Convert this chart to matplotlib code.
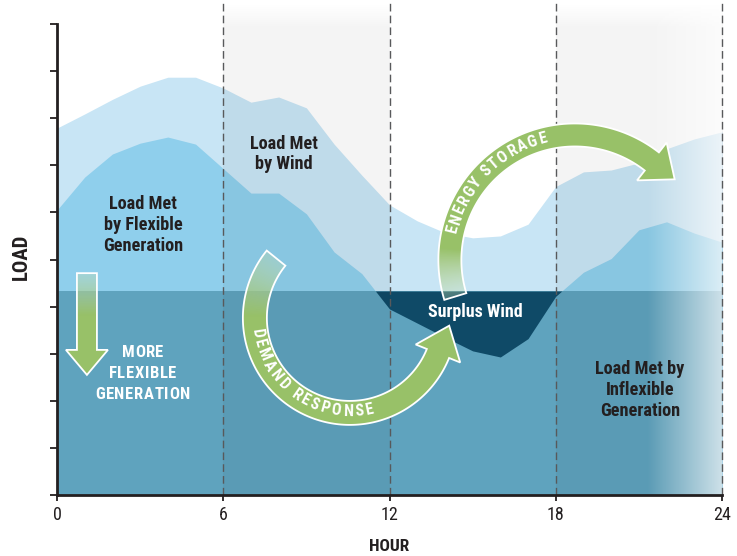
import numpy as np
import matplotlib
matplotlib.use('Agg')
import matplotlib.pyplot as plt
from matplotlib import font_manager as fm
from matplotlib.patches import Polygon
from matplotlib.font_manager import FontProperties

# --- data (hour of day vs. load, arbitrary units) ---
HOURS = list(range(25))
TOTAL_LOAD = [7.79, 8.09, 8.40, 8.68, 8.87, 8.87, 8.64, 8.34, 8.45, 8.22, 7.45, 6.79, 6.16,
              5.82, 5.57, 5.46, 5.50, 5.75, 6.55, 6.86, 6.90, 7.05, 7.35, 7.56, 7.71]
NET_LOAD = [6.05, 6.75, 7.24, 7.47, 7.60, 7.45, 6.93, 6.41, 6.41, 5.97, 5.16, 4.70, 3.95,
            3.65, 3.35, 3.06, 2.93, 3.32, 4.22, 4.73, 5.02, 5.63, 5.80, 5.56, 5.37]
INFLEXIBLE_LEVEL = 4.33
X_TICKS = [0, 6, 12, 18, 24]
Y_TICKS = list(range(11))
SHADED_BANDS = [(6, 12), (18, 24)]
DIVIDERS = [6, 12, 18, 24]

# --- style ---
W, H = 737, 556
TEXT_C = '#231f20'
WIND_C = '#c8e5f5'
FLEX_C = '#8fcfec'
INFLEX_C = '#5fa3be'
SURPLUS_C = '#0f4a67'
GREEN = np.array([152, 193, 104]) / 255


def pick_font():
    # the original uses a condensed sans; take the narrowest one installed
    for fam in ['Liberation Sans Narrow', 'Roboto Condensed', 'Open Sans Condensed']:
        try:
            fm.findfont(FontProperties(family=fam), fallback_to_default=False)
            return fam, 'normal'
        except ValueError:
            pass
    path = fm.findfont(FontProperties(family='DejaVu Sans', stretch='condensed'))
    if 'ondensed' in path:
        return 'DejaVu Sans', 'condensed'
    return 'Roboto', 'normal'


FAM, STRETCH = pick_font()
FONT = [FAM, 'DejaVu Sans']
plt.rcParams['font.family'] = FONT
plt.rcParams['font.stretch'] = STRETCH

fig = plt.figure(figsize=(W / 100, H / 100), dpi=100, facecolor='white')
ax = fig.add_axes([57 / W, 1 - 495 / H, (722 - 57) / W, (495 - 24) / H])
renderer = fig.canvas.get_renderer()


def text_width(s, prop):
    w, _, _ = renderer.get_text_width_height_descent(s, prop, ismath=False)
    return w


def fit_size(s, target_px, weight='bold'):
    probe = FontProperties(family=FONT, weight=weight, stretch=STRETCH, size=10)
    return 10 * target_px / text_width(s, probe)


# stacked areas
ax.fill_between(HOURS, 0, TOTAL_LOAD, color=WIND_C, lw=0, zorder=1)
ax.fill_between(HOURS, 0, NET_LOAD, color=FLEX_C, lw=0, zorder=2)
ax.axhspan(0, INFLEXIBLE_LEVEL, color=INFLEX_C, lw=0, zorder=3)
net = np.array(NET_LOAD)
ax.fill_between(HOURS, net, INFLEXIBLE_LEVEL, where=net < INFLEXIBLE_LEVEL,
                interpolate=True, color=SURPLUS_C, lw=0, zorder=4)

# shaded time bands (fade out at the very top)
TOP = 10.45
for a, b in SHADED_BANDS:
    yy = np.linspace(0, TOP, 200)
    img = np.zeros((200, 1, 4))
    img[:, 0, 3] = 0.045 * np.clip((TOP - yy) / 0.5, 0, 1)
    ax.imshow(img, extent=(a, b, 0, TOP), origin='lower', aspect='auto',
              interpolation='bilinear', clip_on=False, zorder=5)

# white fade at the right edge
fade = np.ones((1, 200, 4))
fade[0, :, 3] = 0.7 * np.linspace(0, 1, 200)
ax.imshow(fade, extent=(21.3, 24, 0, TOP), origin='lower', aspect='auto',
          interpolation='bilinear', clip_on=False, zorder=6)

for x in DIVIDERS:
    ax.plot([x, x], [0, TOP], color='#58595b', lw=1.0, dashes=(5.5, 3),
            clip_on=False, zorder=7)

ax.set_xlim(0, 24)
ax.set_ylim(0, 10)
for side in ['top', 'right']:
    ax.spines[side].set_visible(False)
for side in ['left', 'bottom']:
    ax.spines[side].set_color(TEXT_C)
    ax.spines[side].set_linewidth(2)
    ax.spines[side].set_zorder(8)
ax.set_xticks(X_TICKS)
ax.set_yticks(Y_TICKS)
ax.set_yticklabels([])
ax.tick_params(axis='y', length=5, width=1.3, color=TEXT_C)
ax.tick_params(axis='x', length=4, width=1.3, color=TEXT_C, labelsize=13,
               labelcolor=TEXT_C, pad=4)
ax.set_xlabel('HOUR', fontsize=fit_size('HOUR', 40), fontweight='bold', color=TEXT_C)
ax.set_ylabel('LOAD', fontsize=fit_size('LOAD', 46), fontweight='bold', color=TEXT_C)
ax.xaxis.set_label_coords(0.5, -0.093)
ax.yaxis.set_label_coords(-0.040, 0.505)

lbl_size = fit_size('Load Met', 68)
lbl = dict(fontsize=lbl_size, fontweight='bold', color=TEXT_C, ha='center',
           va='center', linespacing=1.2, zorder=9)
ax.text(3.1, 5.73, 'Load Met\nby Flexible\nGeneration', **lbl)
ax.text(8.19, 7.24, 'Load Met\nby Wind', **lbl)
ax.text(21.04, 2.23, 'Load Met by\nInflexible\nGeneration', **lbl)
ax.text(15.1, 3.88, 'Surplus Wind', fontsize=fit_size('Surplus Wind', 95),
        fontweight='bold', color='white', ha='center', va='center', zorder=9)

# --- decoration layer in pixel units ---
deco = fig.add_axes([0, 0, 1, 1], zorder=5)
deco.set_xlim(0, W)
deco.set_ylim(0, H)
deco.axis('off')
deco.patch.set_alpha(0)


def to_px(h, load):
    return ax.transData.transform((h, load))


def char_width(c, prop):
    if c == ' ':
        return prop.get_size_in_points() * 100 / 72 * 0.22
    return text_width(c, prop)


def gradient_fill(pts, progress, fade_len):
    # green fill that fades out at the tail, clipped to the arrow outline
    x0, y0 = pts.min(axis=0) - 2
    x1, y1 = pts.max(axis=0) + 2
    gx, gy = np.meshgrid(np.arange(x0, x1), np.arange(y0, y1))
    t = np.clip(progress(gx, gy) / fade_len, 0, 1)
    img = np.zeros(gx.shape + (4,))
    whiten = 0.45 * (1 - t)
    for k in range(3):
        img[..., k] = GREEN[k] * (1 - whiten) + whiten
    img[..., 3] = 0.3 + 0.7 * t
    outline = Polygon(pts, closed=True, facecolor='none', edgecolor='white', lw=1.3,
                      zorder=3)
    deco.add_patch(outline)
    im = deco.imshow(img, extent=(x0, x1, y0, y1), origin='lower', aspect='auto',
                     interpolation='bilinear', zorder=2)
    im.set_clip_path(outline)


def arc_arrow(center, r, width, th0, th1, ccw, head_w, head_len, fade_deg):
    cx, cy = to_px(*center)
    sgn = 1 if ccw else -1
    th = np.radians(np.linspace(th0, th1, 150))
    ro, ri = r + width / 2, r - width / 2
    outer = np.c_[cx + ro * np.cos(th), cy + ro * np.sin(th)]
    inner = np.c_[cx + ri * np.cos(th), cy + ri * np.sin(th)][::-1]
    t1 = np.radians(th1)
    radial = np.array([np.cos(t1), np.sin(t1)])
    tangent = sgn * np.array([-np.sin(t1), np.cos(t1)])
    base = np.array([cx, cy]) + r * radial
    pts = np.vstack([outer, base + radial * head_w / 2, base + tangent * head_len,
                     base - radial * head_w / 2, inner])

    def progress(gx, gy):
        phi = np.degrees(np.arctan2(gy - cy, gx - cx))
        s = np.mod((phi - th0) * sgn, 360)
        return np.where(s > 330, 0, s)

    gradient_fill(pts, progress, fade_deg)
    return cx, cy


def arc_text(cx, cy, r, s, th_start, th_end, ccw, prop):
    widths = [char_width(c, prop) for c in s]
    span = np.radians(abs(th_end - th_start)) * r
    track = (span - (sum(widths) - widths[0] / 2 - widths[-1] / 2)) / (len(s) - 1)
    track = max(track, 0.8)
    sgn = 1 if ccw else -1
    pos = 0.0
    for i, (c, w) in enumerate(zip(s, widths)):
        if i > 0:
            pos += widths[i - 1] / 2 + track + w / 2
        th = th_start + sgn * np.degrees(pos / r)
        rad = np.radians(th)
        deco.text(cx + r * np.cos(rad), cy + r * np.sin(rad), c, fontproperties=prop,
                  color='white', ha='center', va='center', rotation=th + sgn * 90,
                  rotation_mode='anchor', zorder=4)


def tracked_line(x, y, s, track, prop):
    widths = [char_width(c, prop) for c in s]
    total = sum(widths) + track * (len(s) - 1)
    pos = x - total / 2
    for c, w in zip(s, widths):
        deco.text(pos + w / 2, y, c, fontproperties=prop, color='white',
                  ha='center', va='center', zorder=4)
        pos += w + track


arc_prop = FontProperties(family=FONT, weight='bold', stretch=STRETCH, size=11.5)

# demand response arrow
cx, cy = arc_arrow((10.57, 3.76), 95, 24, 141, 338, True, 48, 30, 38)
arc_text(cx, cy, 93.5, 'DEMAND RESPONSE', 189, 282, True, arc_prop)

# energy storage arrow
cx, cy = arc_arrow((18.69, 4.99), 125, 23, 197, 52, False, 48, 29, 22)
arc_text(cx, cy, 125.5, 'ENERGY STORAGE', 166, 105, False, arc_prop)

# straight "more flexible generation" arrow
ax_x, top_y = to_px(1.08, 4.71)
_, tip_y = to_px(1.08, 2.55)
shaft, head_w, head_len = 20, 42, 25
base_y = tip_y + head_len
down_pts = np.array([[ax_x - shaft / 2, top_y], [ax_x + shaft / 2, top_y],
                     [ax_x + shaft / 2, base_y], [ax_x + head_w / 2, base_y],
                     [ax_x, tip_y], [ax_x - head_w / 2, base_y],
                     [ax_x - shaft / 2, base_y]])
gradient_fill(down_pts, lambda gx, gy: top_y - gy, 42)

more_prop = FontProperties(family=FONT, weight='bold', stretch=STRETCH, size=12)
gen_w = sum(char_width(c, more_prop) for c in 'GENERATION')
more_track = max((95 - gen_w) / 9, 0.5)
mx, my = to_px(3.09, 2.57)
for k, line in enumerate(['MORE', 'FLEXIBLE', 'GENERATION']):
    tracked_line(mx, my + (1 - k) * 21, line, more_track, more_prop)

fig.savefig('out.png', dpi=100)
